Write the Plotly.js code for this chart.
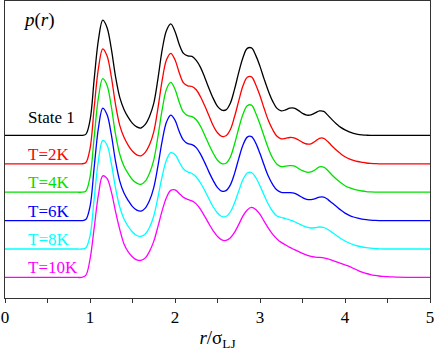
<!DOCTYPE html>
<html>
<head>
<meta charset="utf-8">
<script src="https://cdn.plot.ly/plotly-3.0.1.min.js"></script>
<style>
body{margin:0;padding:0;background:#fff;}
#chart{width:436px;height:353px;}
</style>
</head>
<body>
<div id="chart"></div>
<script>
// r / sigma_LJ sample points shared by all curves
let r = [0,
  0.85,0.90,0.95,1.00,1.05,1.10,1.15,1.20,1.25,1.30,
  1.35,1.40,1.45,1.50,1.55,1.60,1.65,1.70,1.75,1.80,
  1.85,1.90,1.95,2.00,2.05,2.10,2.15,2.20,2.25,2.30,
  2.35,2.40,2.45,2.50,2.55,2.60,2.65,2.70,2.75,2.80,
  2.85,2.90,2.95,3.00,3.05,3.10,3.15,3.20,3.25,3.30,
  3.35,3.40,3.45,3.50,3.55,3.60,3.65,3.70,3.75,3.80,
  3.85,3.90,3.95,4.00,4.05,4.10,4.15,4.20,4.25,4.30,
  4.35,4.40,4.45,4.50,4.55,4.60,
  5.0];

// p(r), arbitrary units, before the vertical shift
let state1 = [0,
  0,0,1,15,57,96,115.2,108,87,59,
  38,26,18,12,8.5,7.4,11,19,32,57,
  86,105,111.5,104,91,82,79.5,79,75,68,
  58,47,37,29,25.3,25.5,32,46,63,78,
  87,87.5,80,69,56,44,34,27,24.5,25.5,
  27.2,27.2,25,22,20.3,20.5,22.5,24.5,24,20,
  15.5,11.5,8,5.5,3.5,2,1,0.5,0.2,0,
  0,0,0,0,0,0,
  0];
let t2 = [0,
  0,0,1,15,57,96,115,108,87.5,59.5,
  38.5,26.5,18.5,12.5,9,8,11.5,19,32,56,
  84,104,110.5,104,91,81,78,77.3,74,67,
  58,48,38,31,27.5,28,34,47,63,78,
  86.5,87,79,68,55,43,34,27.5,25,25.5,
  26.3,26,24,21.5,19.8,20,22.5,25.5,25.5,22,
  17.5,13.5,10,7,5,3.5,2.3,1.5,0.8,0.4,
  0.2,0,0,0,0,0,
  0];
let t4 = [0,
  0,0,1,15,56,95,113.5,107,86,58,
  38,26,18.5,12.5,9,7.8,11,19,32,56,
  83,103,109.8,103,90,80,76.5,75.6,72.5,66,
  57,47.5,39,32,28.5,29,35,48,64,78,
  86.5,87,79,68,55.5,43.5,34,28,25.6,26,
  26.6,26.3,24,21.5,20,20.3,22.5,25.3,25,21.5,
  17,13,9.5,6.5,4.5,3,2,1.2,0.6,0.3,
  0.1,0,0,0,0,0,
  0];
let t6 = [0,
  0,0,1,14,54,93,112.5,106,86.5,59.5,
  39.5,27.5,20,14,10.5,9.5,12.5,20,33,55,
  80,98.5,105.5,100.5,89,80.5,77,76,73,66.5,
  58,48.5,40,33,29.5,30,35.5,47,62,75.5,
  83.5,84,77.5,67,55,44,36,30.5,28.3,28,
  28,27.5,25.5,23,21.2,21,22,23.5,23.5,21,
  17.5,14,10.5,7.5,5.3,3.6,2.4,1.5,0.9,0.5,
  0.2,0,0,0,0,0,
  0];
let t8 = [0,
  0,0,1,13,51,89,108.5,104,86,61,
  42,30,22.5,17,13.5,12.6,15,21.5,33,52,
  73,89,96.3,94.5,87,80,77,75.5,72,66,
  58.5,50,42,36,32.5,32.5,37,46,58,69.5,
  76,76.5,71.5,63,53.5,44.5,37.5,33,31.5,30.5,
  29,27.5,25.5,23.5,21.8,21,21.3,22,21.5,19.5,
  16.5,13.5,10.5,8,6,4.3,3,2,1.3,0.8,
  0.4,0.2,0,0,0,0,
  0];
let t10 = [0,
  0,0,2,18,50,83,101.5,99,86,66,
  48,33.5,25.5,20.5,17.5,17,19.5,26,36,51,
  67,80,87,87.5,84,80,78,76.5,73.5,68,
  61,53.5,46.5,41,37.5,37,39.5,45,53,61.5,
  67.5,70,68,63,56,49,43,38.5,35,32.5,
  30,28,26,24,22.3,21,20.3,20,19.5,18.5,
  17,15.5,14,12.5,11,9,7,5.2,3.9,2.8,
  2,1.4,1,0.7,0.5,0.3,
  0];

let names  = ['State 1','T=2K','T=4K','T=6K','T=8K','T=10K'];
let series = [state1, t2, t4, t6, t8, t10];
let colors = ['#000000','#ff0000','#00e000','#0000ff','#00ffff','#ff00ff'];
let shift = 28.4;

let traces = [];
let notes = [];
for (let i = 0; i < series.length; i++){
  let off = (series.length - 1 - i) * shift;
  traces.push({
    x: r,
    y: series[i].map(v => v + off),
    type: 'scatter',
    mode: 'lines',
    name: names[i],
    line: {color: colors[i], width: 1.3, shape: 'spline', smoothing: 1},
    hoverinfo: 'skip'
  });
  notes.push({
    x: 0.247, y: off + (i == 0 ? 18 : 9.5),
    xref: 'x', yref: 'y',
    xanchor: 'left', yanchor: 'middle',
    text: names[i],
    showarrow: false,
    font: {family: 'Liberation Serif', size: 17, color: colors[i]}
  });
}
notes.push({
  x: 0.19, y: 257,
  xref: 'x', yref: 'y',
  xanchor: 'left', yanchor: 'middle',
  text: '<i>p</i>(<i>r</i>)',
  showarrow: false,
  font: {family: 'Liberation Serif', size: 19, color: '#000'}
});

let layout = {
  width: 436,
  height: 353,
  margin: {l: 5, r: 6, t: 1, b: 55},
  paper_bgcolor: '#fff',
  plot_bgcolor: '#fff',
  showlegend: false,
  font: {family: 'Liberation Serif', size: 17, color: '#000'},
  xaxis: {
    range: [0, 5],
    dtick: 1,
    showgrid: false,
    zeroline: false,
    showline: true,
    mirror: true,
    linecolor: '#333',
    linewidth: 1,
    ticks: 'outside',
    ticklen: 4,
    tickcolor: '#333',
    minor: {dtick: 0.5, ticks: 'outside', ticklen: 4, tickcolor: '#333'},
    tickfont: {family: 'Liberation Serif', size: 17},
    title: {text: '<i>r</i>/σ<sub>LJ</sub>', font: {family: 'Liberation Serif', size: 19}, standoff: 4}
  },
  yaxis: {
    range: [-20.6, 276.4],
    showgrid: false,
    zeroline: false,
    showline: true,
    mirror: true,
    linecolor: '#333',
    linewidth: 1,
    ticks: '',
    showticklabels: false
  },
  annotations: notes
};

Plotly.newPlot('chart', traces, layout, {staticPlot: true});
</script>
</body>
</html>
